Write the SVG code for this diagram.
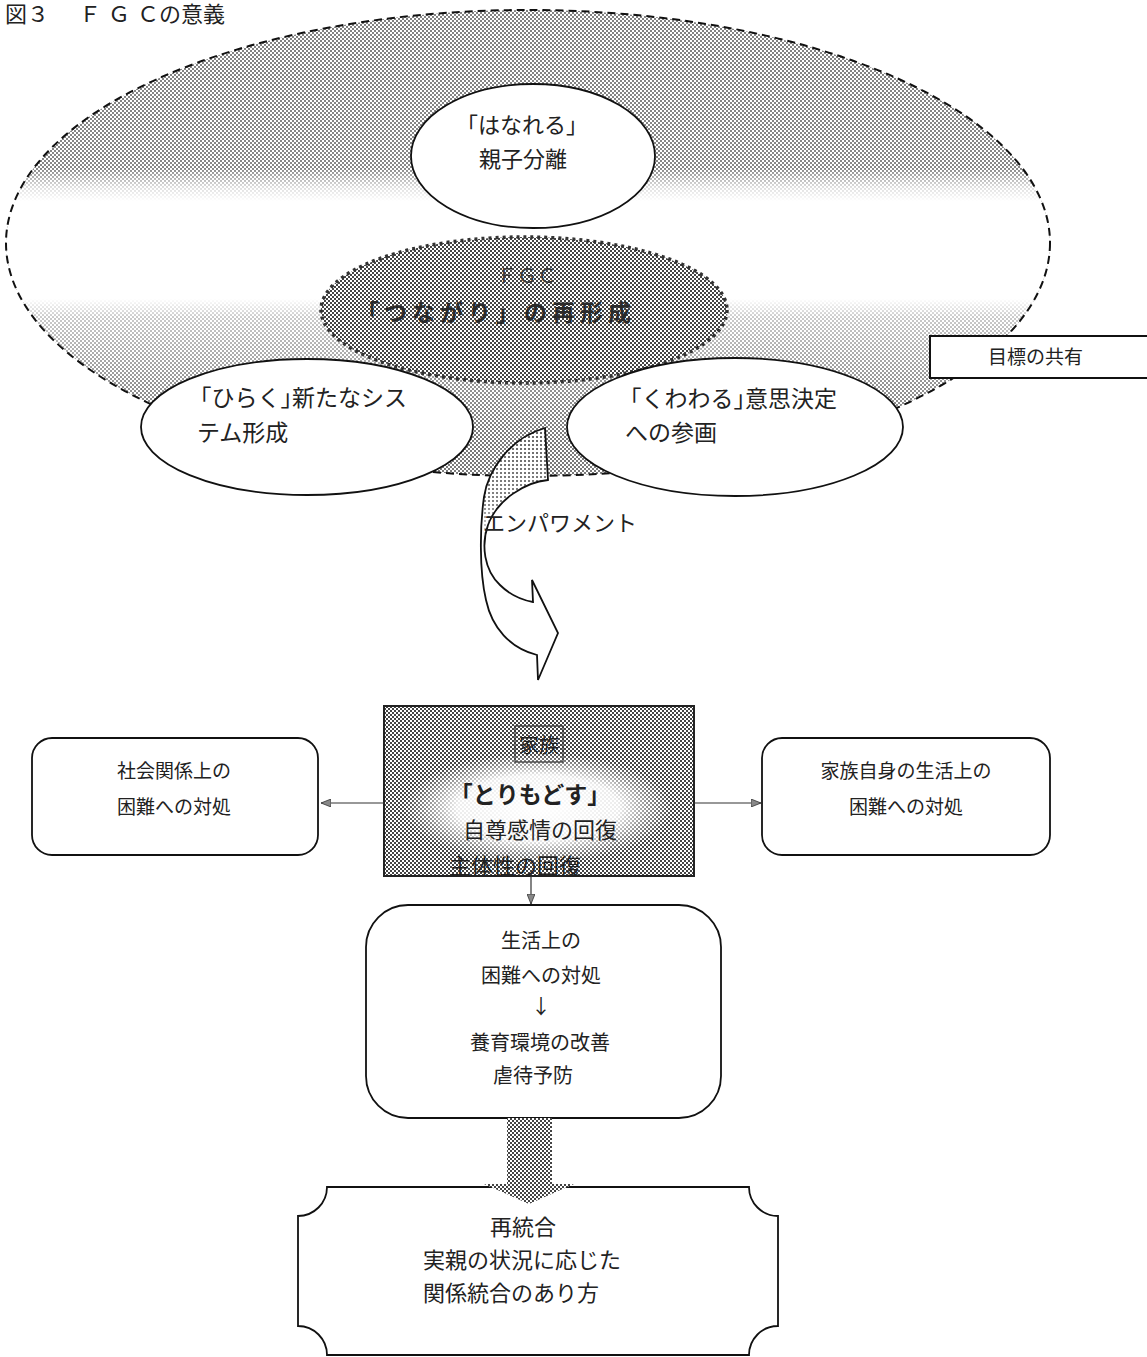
<svg xmlns="http://www.w3.org/2000/svg" width="1147" height="1357" viewBox="0 0 1147 1357">
<defs>
<pattern id="dots" width="4" height="4" patternUnits="userSpaceOnUse">
<rect width="4" height="4" fill="#fff"/><rect x="0" y="0" width="2" height="2" fill="#7a7a7a"/><rect x="2" y="2" width="2" height="2" fill="#7a7a7a"/>
</pattern>
<pattern id="checker" width="4" height="4" patternUnits="userSpaceOnUse">
<rect width="4" height="4" fill="#fff"/><rect x="0" y="0" width="2" height="2" fill="#444"/><rect x="2" y="2" width="2" height="2" fill="#444"/>
</pattern>
<pattern id="light" width="4" height="4" patternUnits="userSpaceOnUse">
<rect width="4" height="4" fill="#fff"/><rect x="0" y="0" width="2" height="2" fill="#666"/>
</pattern>
<linearGradient id="band" x1="0" y1="0" x2="0" y2="1">
<stop offset="0" stop-color="#fff" stop-opacity="0.05"/>
<stop offset="0.34" stop-color="#fff" stop-opacity="0.1"/>
<stop offset="0.38" stop-color="#fff" stop-opacity="0.75"/>
<stop offset="0.41" stop-color="#fff" stop-opacity="1"/>
<stop offset="0.62" stop-color="#fff" stop-opacity="1"/>
<stop offset="0.66" stop-color="#fff" stop-opacity="0.6"/>
<stop offset="0.8" stop-color="#fff" stop-opacity="0.2"/>
<stop offset="0.92" stop-color="#fff" stop-opacity="0"/>
<stop offset="1" stop-color="#fff" stop-opacity="0"/>
</linearGradient>
<linearGradient id="fade" x1="0" y1="0" x2="0" y2="1">
<stop offset="0" stop-color="#fff" stop-opacity="0"/>
<stop offset="0.3" stop-color="#fff" stop-opacity="0.2"/>
<stop offset="0.47" stop-color="#fff" stop-opacity="1"/>
<stop offset="1" stop-color="#fff" stop-opacity="1"/>
</linearGradient>
<radialGradient id="glow" cx="0.5" cy="0.5" r="0.5">
<stop offset="0" stop-color="#fff" stop-opacity="1"/>
<stop offset="0.6" stop-color="#fff" stop-opacity="0.9"/>
<stop offset="1" stop-color="#fff" stop-opacity="0"/>
</radialGradient>
<marker id="tri" viewBox="0 0 10 8" refX="10" refY="4" markerWidth="10" markerHeight="8" markerUnits="userSpaceOnUse" orient="auto">
<path d="M0,0 L10,4 L0,8 Z" fill="#888" stroke="#333" stroke-width="0.8"/>
</marker>
<style>
text{font-family:"Noto Sans CJK JP","Noto Sans",sans-serif;fill:#222}
.t20{font-size:20px}
.t19{font-size:19px}
.t22{font-size:22px}
.t23{font-size:23px}
.mid{text-anchor:middle}
.h{font-feature-settings:"halt"}
.shape{stroke:#111;stroke-width:1.8;fill:#fff}
.conn{stroke:#333;stroke-width:1.2;fill:none}
.title{font-family:"Liberation Serif","Noto Sans CJK JP",serif;font-size:22px}
</style>
</defs>

<text class="title" x="5" y="22">図３</text>
<text class="title" x="79" y="22"><tspan letter-spacing="7">ＦＧ</tspan>Ｃの意義</text>

<g id="outer">
<ellipse cx="528" cy="243" rx="522" ry="233" fill="url(#dots)"/>
<ellipse cx="528" cy="243" rx="522" ry="233" fill="url(#band)"/>
<ellipse cx="528" cy="243" rx="522" ry="233" fill="none" stroke="#111" stroke-width="2" stroke-dasharray="8 5"/>
</g>

<g id="hanareru">
<ellipse class="shape" cx="533" cy="156" rx="122" ry="72"/>
<text class="t22 mid" x="522" y="133"><tspan class="h">「</tspan>はなれる<tspan class="h">」</tspan></text>
<text class="t22 mid" x="523" y="167">親子分離</text>
</g>

<g id="fgc">
<ellipse cx="524" cy="310" rx="203" ry="73" fill="url(#checker)" stroke="#333" stroke-width="3.5" stroke-dasharray="3 4"/>
<text class="t20 mid" x="527" y="283" style="fill:#3a3a3a">ＦＧＣ</text>
<text x="356" y="321" style="font-size:23px;font-weight:bold;fill:#2a2a2a" letter-spacing="5">「つながり」の再形成</text>
</g>

<g id="hiraku">
<ellipse class="shape" cx="307" cy="427" rx="166" ry="68"/>
<text class="t23" x="200" y="406"><tspan class="h">「</tspan>ひらく<tspan class="h">」</tspan>新たなシス</text>
<text class="t23" x="197" y="441">テム形成</text>
</g>

<g id="kuwawaru">
<ellipse class="shape" cx="735" cy="427" rx="168" ry="69"/>
<text class="t23" x="630" y="407"><tspan class="h">「</tspan>くわわる<tspan class="h">」</tspan>意思決定</text>
<text class="t23" x="625" y="441">への参画</text>
</g>

<g id="goal">
<rect x="930" y="336" width="230" height="42" fill="#fff" stroke="#111" stroke-width="2"/>
<text class="t19" x="988" y="364">目標の共有</text>
</g>

<g id="empowerment">
<path d="M545,428 L548,480 C525,482 497,500 488,525 C481,545 484,570 500,585 C510,595 522,600 533,602 L532,580 L558,633 L538,680 L537,655 C510,648 492,628 486,600 C479,570 480,525 484,497 C488,470 510,438 545,428 Z" fill="url(#light)"/>
<path d="M545,428 L548,480 C525,482 497,500 488,525 C481,545 484,570 500,585 C510,595 522,600 533,602 L532,580 L558,633 L538,680 L537,655 C510,648 492,628 486,600 C479,570 480,525 484,497 C488,470 510,438 545,428 Z" fill="url(#fade)" stroke="#111" stroke-width="1.8" stroke-linejoin="miter"/>
<text class="t22" x="483" y="531">エンパワメント</text>
</g>

<g id="family">
<rect x="384" y="706" width="310" height="170" fill="url(#checker)" stroke="#222" stroke-width="2"/>
<ellipse cx="538" cy="808" rx="135" ry="55" fill="url(#glow)"/>
<rect x="515" y="726" width="48" height="36" fill="none" stroke="#333" stroke-width="1.2"/>
<text class="t20 mid" x="539" y="753">家族</text>
<text class="mid" x="530" y="803" style="font-size:23px;font-weight:bold"><tspan class="h">「</tspan>とりもどす<tspan class="h">」</tspan></text>
<text class="t22 mid" x="540" y="838">自尊感情の回復</text>
<text class="t22" x="449" y="874">主体性の回復</text>
</g>

<g id="social">
<rect class="shape" x="32" y="738" width="286" height="117" rx="20"/>
<text class="t19 mid" x="174" y="778">社会関係上の</text>
<text class="t19 mid" x="174" y="814">困難への対処</text>
</g>

<g id="ownlife">
<rect class="shape" x="762" y="738" width="288" height="117" rx="20"/>
<text class="t19 mid" x="906" y="778">家族自身の生活上の</text>
<text class="t19 mid" x="906" y="814">困難への対処</text>
</g>

<g id="coping">
<rect class="shape" x="366" y="905" width="355" height="213" rx="42"/>
<text class="t20 mid" x="541" y="948">生活上の</text>
<text class="t20 mid" x="541" y="983">困難への対処</text>
<text class="t20 mid" x="541" y="1014">↓</text>
<text class="t20 mid" x="540" y="1050">養育環境の改善</text>
<text class="t20" x="493" y="1083">虐待予防</text>
</g>

<g id="reunify">
<path class="shape" d="M327,1187 L749,1187 A29,29 0 0 0 778,1216 L778,1326 A29,29 0 0 0 749,1355 L327,1355 A29,29 0 0 0 298,1326 L298,1216 A29,29 0 0 0 327,1187 Z"/>
<text class="t22 mid" x="523" y="1235">再統合</text>
<text class="t22" x="423" y="1268">実親の状況に応じた</text>
<text class="t22" x="423" y="1301">関係統合のあり方</text>
</g>

<g id="connectors">
<line class="conn" x1="384" y1="803" x2="321" y2="803" marker-end="url(#tri)"/>
<line class="conn" x1="694" y1="803" x2="761" y2="803" marker-end="url(#tri)"/>
<line class="conn" x1="531" y1="876" x2="531" y2="904" marker-end="url(#tri)"/>
<path d="M507,1118 L552,1118 L552,1184 L574,1184 L529,1204 L484,1184 L507,1184 Z" fill="url(#checker)"/>
</g>
</svg>
